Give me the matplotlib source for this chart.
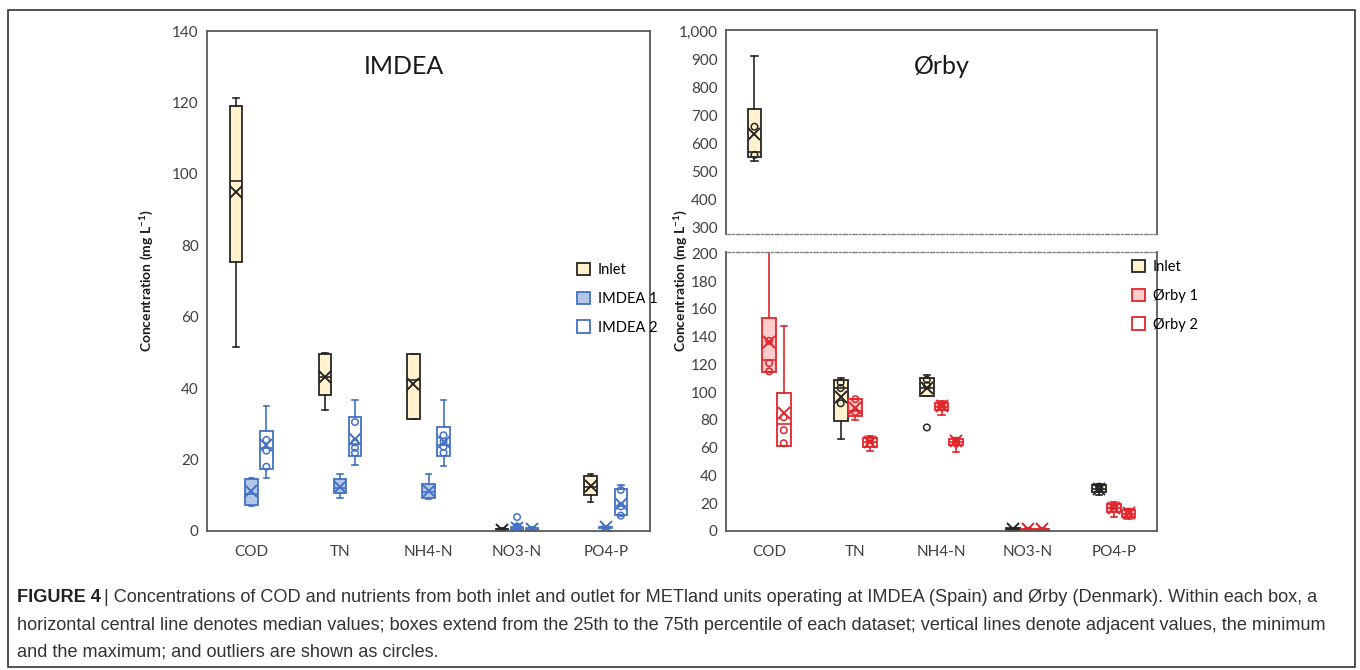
import matplotlib
matplotlib.use("Agg")
import matplotlib.pyplot as plt
from matplotlib.patches import Patch, Rectangle
from matplotlib.ticker import FuncFormatter

plt.rcParams['font.family'] = ['Lato', 'DejaVu Sans']
plt.rcParams['mathtext.fontset'] = 'custom'
plt.rcParams['mathtext.rm'] = 'Lato'
plt.rcParams['mathtext.bf'] = 'Lato:bold'

categories = ['COD', 'TN', 'NH4-N', 'NO3-N', 'PO4-P']

# each tuple: whisker low, Q1, median, Q3, whisker high, mean
imdea_inlet = [(51.5, 75.4, 97.9, 118.9, 121.3, 94.8),
               (33.9, 38.0, 43.0, 49.6, 49.8, 43.0),
               (31.5, 31.5, 42.3, 49.6, 49.6, 41.1),
               (0.0, 0.1, 0.3, 0.5, 0.8, 0.4),
               (8.0, 10.1, 12.3, 15.4, 15.9, 12.5)]
imdea_1 = [(7.1, 7.4, 10.5, 14.6, 14.9, 11.3),
           (9.3, 10.6, 12.0, 14.7, 15.9, 12.3),
           (9.0, 9.3, 11.0, 13.2, 15.9, 11.3),
           (0.0, 0.2, 0.6, 1.2, 1.6, 0.9),
           (0.5, 0.8, 1.0, 1.2, 1.4, 1.1)]
imdea_2 = [(14.9, 17.5, 23.3, 28.1, 35.0, 24.1),
           (18.5, 21.0, 24.5, 32.0, 36.6, 25.8),
           (18.3, 20.9, 24.1, 29.1, 36.6, 25.0),
           (0.0, 0.2, 0.4, 0.8, 1.2, 0.6),
           (4.1, 4.5, 6.9, 11.8, 13.0, 7.7)]
imdea_inlet_pts = [[], [], [], [], []]
imdea_1_pts = [[], [], [], [3.9, 1.3, 0.8], []]
imdea_2_pts = [[25.5, 22.5, 18.0], [30.5, 24.8, 23.3, 21.9],
               [26.8, 25.0, 23.6, 21.9], [], [11.5, 6.9, 4.3]]

orby_inlet = [(538, 551, 570, 724, 913, 634),
              (66.4, 79.4, 103.2, 108.7, 110.4, 96.3),
              (97.0, 97.0, 103.0, 110.0, 112.4, 103.2),
              (0.5, 1.0, 1.5, 2.0, 2.5, 1.6),
              (25.9, 27.9, 29.9, 32.8, 34.0, 30.3)]
orby_1 = [(114.4, 114.4, 122.9, 153.2, 230.0, 136.1),
          (80.1, 82.6, 86.3, 95.0, 95.0, 88.8),
          (83.3, 87.1, 89.6, 92.0, 93.3, 90.0),
          (0.3, 0.6, 1.0, 1.4, 2.0, 1.2),
          (10.4, 13.7, 16.7, 19.2, 20.9, 16.7)]
orby_2 = [(61.4, 61.4, 77.1, 99.5, 148.0, 85.0),
          (57.7, 60.7, 63.9, 66.9, 68.4, 64.0),
          (57.0, 61.9, 64.4, 66.4, 66.9, 64.7),
          (0.3, 0.6, 1.0, 1.4, 2.0, 1.2),
          (8.7, 10.0, 12.4, 14.9, 15.9, 12.9)]
orby_inlet_pts = [[659, 558], [107, 103, 92], [109, 105, 74.6], [], [32, 30]]
orby_1_pts = [[137, 121, 115], [95, 85.8], [91, 89], [], [18, 16]]
orby_2_pts = [[82, 72.6, 63.2], [66, 63], [65, 63], [], [14, 12]]

imdea_labels = ['Inlet', 'IMDEA 1', 'IMDEA 2']
orby_labels = ['Inlet', 'Ørby 1', 'Ørby 2']

INLET = ('#FFF2CC', '#262626')
BLUE1 = ('#B4C7E7', '#4472C4')
BLUE2 = ('#FFFFFF', '#4472C4')
RED1 = ('#FFCCCC', '#E3242B')
RED2 = ('#FFFFFF', '#E3242B')

W, H = 1360, 670
fig = plt.figure(figsize=(W / 100, H / 100), dpi=100)


def px_axes(x0, y0, x1, y1):
    return fig.add_axes([x0 / W, 1 - y1 / H, (x1 - x0) / W, (y1 - y0) / H])


def draw_series(ax, data, pts, offset, width, colors):
    fill, edge = colors
    stats = [dict(whislo=d[0], q1=d[1], med=d[2], q3=d[3], whishi=d[4],
                  mean=d[5], fliers=[]) for d in data]
    pos = [i + 0.5 + offset for i in range(len(data))]
    ax.bxp(stats, positions=pos, widths=width, patch_artist=True,
           showmeans=True, showfliers=False, capwidths=width * 0.45,
           boxprops=dict(facecolor=fill, edgecolor=edge, linewidth=1.3),
           medianprops=dict(color=edge, linewidth=1.2),
           whiskerprops=dict(color=edge, linewidth=1.2),
           capprops=dict(color=edge, linewidth=1.2),
           meanprops=dict(marker='x', markeredgecolor=edge,
                          markersize=8.5, markeredgewidth=1.4))
    for p, vals in zip(pos, pts):
        if vals:
            ax.scatter([p] * len(vals), vals, s=22, facecolor='none',
                       edgecolor=edge, linewidth=1.1, zorder=5)


def style_axes(ax, spine_color='#595959'):
    for s in ax.spines.values():
        s.set_color(spine_color)
        s.set_linewidth(1.3)
    ax.tick_params(length=0, labelsize=11, labelcolor='#404040', pad=6)
    ax.set_xlim(0, 5)


ylabel = r'Concentration (mg L$^{\mathregular{-1}}$)'

# ---- IMDEA ----
ax1 = px_axes(207, 31, 650, 531)
for data, pts, off, col in [(imdea_inlet, imdea_inlet_pts, -0.17, INLET),
                            (imdea_1, imdea_1_pts, 0.0, BLUE1),
                            (imdea_2, imdea_2_pts, 0.17, BLUE2)]:
    draw_series(ax1, data, pts, off, 0.14, col)
style_axes(ax1)
ax1.set_ylim(0, 140)
ax1.set_yticks(range(0, 141, 20))
ax1.set_xticks([i + 0.5 for i in range(5)])
ax1.set_xticklabels(categories)
ax1.tick_params(axis='x', pad=10)
ax1.text(0.445, 0.93, 'IMDEA', transform=ax1.transAxes, ha='center',
         va='center', fontsize=18, color='#1a1a1a')
ax1.set_ylabel(ylabel, fontsize=10, fontweight='bold',
               color='#1a1a1a', labelpad=12)
h1 = [Patch(facecolor=c[0], edgecolor=c[1], linewidth=1.3)
      for c in (INLET, BLUE1, BLUE2)]
ax1.legend(h1, imdea_labels, loc='upper left',
           bbox_to_anchor=(564 / W, 1 - 250 / H), bbox_transform=fig.transFigure,
           frameon=False, handlelength=0.9, handleheight=0.9,
           labelspacing=1.0, handletextpad=0.5, fontsize=10.5)

# ---- Ørby (broken axis) ----
ax_top = px_axes(726, 30, 1157, 234)
ax_bot = px_axes(726, 252, 1157, 531)
for ax in (ax_top, ax_bot):
    for data, pts, off, col in [(orby_inlet, orby_inlet_pts, -0.17, INLET),
                                (orby_1, orby_1_pts, 0.0, RED1),
                                (orby_2, orby_2_pts, 0.17, RED2)]:
        draw_series(ax, data, pts, off, 0.16, col)
    style_axes(ax)

ax_top.set_ylim(275, 1005)
ax_top.set_yticks(range(300, 1001, 100))
ax_top.yaxis.set_major_formatter(FuncFormatter(lambda v, p: f'{int(v):,}'))
ax_top.set_xticks([])
ax_top.spines['bottom'].set_linestyle((0, (3, 1.5, 1, 1.5)))
ax_top.spines['bottom'].set_linewidth(1.0)
ax_top.spines['bottom'].set_color('#808080')
ax_top.text(0.5, 0.82, 'Ørby', transform=ax_top.transAxes, ha='center',
            va='center', fontsize=18, color='#1a1a1a')

ax_bot.set_ylim(0, 201)
ax_bot.set_yticks(range(0, 201, 20))
ax_bot.set_xticks([i + 0.5 for i in range(5)])
ax_bot.set_xticklabels(categories)
ax_bot.tick_params(axis='x', pad=10)
ax_bot.spines['top'].set_linestyle((0, (3, 1.5, 1, 1.5)))
ax_bot.spines['top'].set_linewidth(1.0)
ax_bot.spines['top'].set_color('#808080')

fig.text(680 / W, 1 - 281 / H, ylabel, rotation=90,
         ha='center', va='center', fontsize=10, fontweight='bold',
         color='#1a1a1a')
h2 = [Patch(facecolor=c[0], edgecolor=c[1], linewidth=1.3)
      for c in (INLET, RED1, RED2)]
ax_bot.legend(h2, orby_labels, loc='upper left',
              bbox_to_anchor=(1119 / W, 1 - 247 / H), bbox_transform=fig.transFigure,
              frameon=False, handlelength=0.9, handleheight=0.9,
              labelspacing=1.0, handletextpad=0.5, fontsize=10.5)

# ---- frame and caption ----
fig.add_artist(Rectangle((8 / W, 1 - 667 / H), 1347 / W, 657 / H,
                         transform=fig.transFigure, fill=False,
                         edgecolor='#333333', linewidth=1.2))

cap_font = ['Liberation Sans', 'DejaVu Sans']
cap_size = 13.1
cap_lines = [
    'Concentrations of COD and nutrients from both inlet and outlet for METland units operating at IMDEA (Spain) and Ørby (Denmark). Within each box, a',
    'horizontal central line denotes median values; boxes extend from the 25th to the 75th percentile of each dataset; vertical lines denote adjacent values, the minimum',
    'and the maximum; and outliers are shown as circles.',
]
t0 = fig.text(17 / W, 1 - 597 / H, 'FIGURE 4', fontsize=cap_size, fontweight='bold',
              family=cap_font, color='#222222', va='center')
fig.canvas.draw()
bb = t0.get_window_extent()
fig.text(bb.x1 / W + 3 / W, 1 - 597 / H, '| ' + cap_lines[0], fontsize=cap_size,
         family=cap_font, color='#333333', va='center')
fig.text(17 / W, 1 - 625 / H, cap_lines[1], fontsize=cap_size,
         family=cap_font, color='#333333', va='center')
fig.text(17 / W, 1 - 652 / H, cap_lines[2], fontsize=cap_size,
         family=cap_font, color='#333333', va='center')

fig.savefig('out.png', dpi=100)
